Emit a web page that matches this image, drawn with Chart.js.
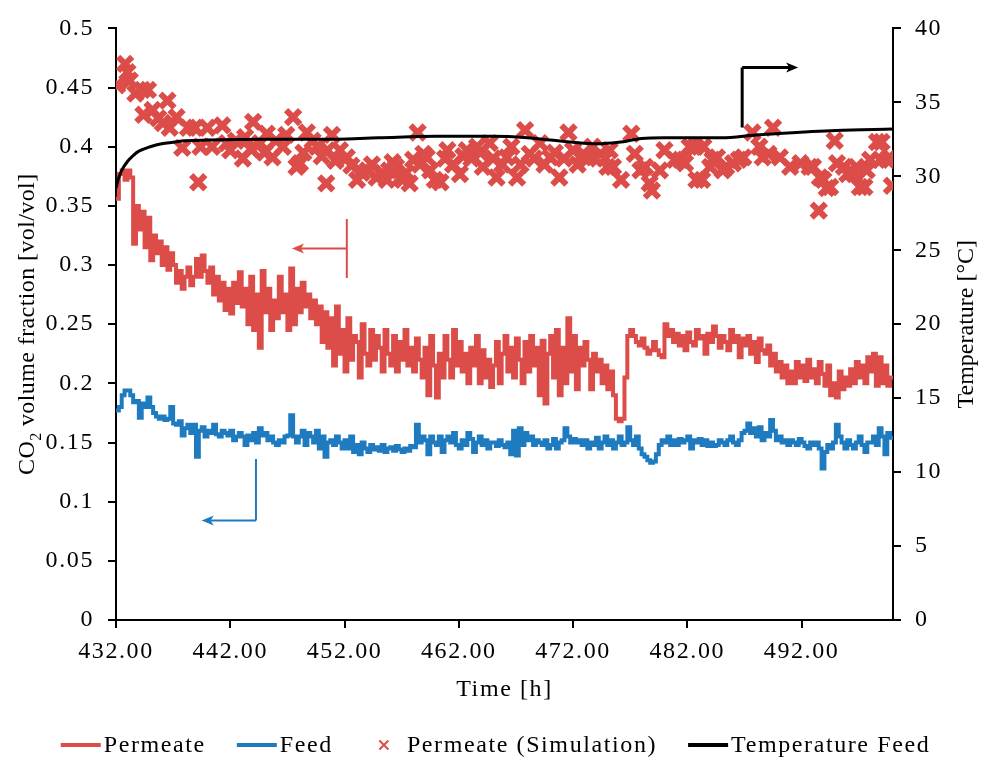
<!DOCTYPE html>
<html>
<head>
<meta charset="utf-8">
<title>CO2 permeate and feed fractions</title>
<script src="https://cdn.jsdelivr.net/npm/chart.js@4.4.1/dist/chart.umd.min.js"></script>
<style>
  html, body { margin: 0; padding: 0; background: #ffffff; }
  #wrap { width: 981px; height: 760px; }
</style>
</head>
<body>
<div id="wrap"><canvas id="chart" width="981" height="760"></canvas></div>
<script>
// ---- measured data -------------------------------------------------------
// Online analyser readings, one sample every quarter hour from 432 h.
const sampleStart = 432;
const sampleStep = 0.25;

const permeateFraction = [
  0.356, 0.377, 0.380, 0.372,  0.380, 0.374, 0.318, 0.350,  0.330, 0.345, 0.315, 0.340,
  0.304, 0.325, 0.310, 0.320,  0.300, 0.315, 0.296, 0.310,  0.300, 0.285, 0.295, 0.280,
  0.290, 0.298, 0.283, 0.290,  0.305, 0.290, 0.308, 0.295,  0.285, 0.298, 0.275, 0.290,
  0.270, 0.285, 0.262, 0.280,  0.259, 0.285, 0.268, 0.294,  0.265, 0.280, 0.250, 0.290,
  0.245, 0.275, 0.230, 0.295,  0.260, 0.280, 0.245, 0.270,  0.255, 0.290, 0.260, 0.275,
  0.245, 0.297, 0.250, 0.280,  0.260, 0.285, 0.265, 0.275,  0.255, 0.270, 0.250, 0.265,
  0.235, 0.260, 0.230, 0.255,  0.215, 0.265, 0.225, 0.245,  0.210, 0.255, 0.220, 0.240,
  0.235, 0.205, 0.250, 0.225,  0.215, 0.245, 0.220, 0.240,  0.230, 0.210, 0.245, 0.225,
  0.215, 0.240, 0.210, 0.235,  0.220, 0.245, 0.215, 0.230,  0.210, 0.238, 0.220, 0.205,
  0.230, 0.190, 0.240, 0.215,  0.188, 0.225, 0.205, 0.240,  0.220, 0.205, 0.245, 0.215,
  0.235, 0.210, 0.225, 0.200,  0.230, 0.215, 0.240, 0.200,  0.228, 0.205, 0.220, 0.197,
  0.215, 0.235, 0.200, 0.225,  0.240, 0.210, 0.230, 0.205,  0.238, 0.220, 0.200, 0.235,
  0.210, 0.240, 0.215, 0.230,  0.190, 0.236, 0.183, 0.225,  0.240, 0.205, 0.245, 0.190,
  0.230, 0.200, 0.255, 0.210,  0.240, 0.195, 0.230, 0.215,  0.235, 0.220, 0.195, 0.225,
  0.210, 0.220, 0.200, 0.215,  0.195, 0.210, 0.190, 0.170,  0.168, 0.170, 0.205, 0.240,
  0.245, 0.240, 0.235, 0.232,  0.238, 0.230, 0.225, 0.228,  0.235, 0.228, 0.224, 0.222,
  0.250, 0.240, 0.245, 0.235,  0.242, 0.232, 0.240, 0.228,  0.243, 0.235, 0.232, 0.245,
  0.238, 0.240, 0.225, 0.242,  0.235, 0.248, 0.240, 0.230,  0.240, 0.235, 0.228, 0.245,
  0.235, 0.240, 0.222, 0.238,  0.232, 0.240, 0.225, 0.235,  0.218, 0.238, 0.228, 0.225,
  0.232, 0.215, 0.225, 0.210,  0.218, 0.205, 0.215, 0.200,  0.210, 0.200, 0.218, 0.205,
  0.215, 0.202, 0.220, 0.205,  0.212, 0.200, 0.218, 0.208,  0.198, 0.215, 0.190, 0.200,
  0.188, 0.210, 0.195, 0.205,  0.198, 0.212, 0.200, 0.218,  0.205, 0.215, 0.200, 0.222,
  0.210, 0.225, 0.198, 0.222,  0.200, 0.215, 0.198, 0.205,  0.205
];

const feedFraction = [
  0.177, 0.180, 0.190, 0.194,  0.194, 0.190, 0.184, 0.185,  0.171, 0.183, 0.180, 0.188,
  0.180, 0.175, 0.172, 0.170,  0.172, 0.169, 0.170, 0.180,  0.166, 0.165, 0.168, 0.156,
  0.162, 0.165, 0.158, 0.165,  0.138, 0.160, 0.163, 0.155,  0.160, 0.158, 0.165, 0.157,
  0.155, 0.160, 0.158, 0.156,  0.160, 0.152, 0.155, 0.158,  0.155, 0.148, 0.156, 0.152,
  0.158, 0.150, 0.162, 0.156,  0.158, 0.152, 0.155, 0.150,  0.148, 0.152, 0.150, 0.155,
  0.156, 0.173, 0.155, 0.150,  0.155, 0.160, 0.148, 0.158,  0.155, 0.150, 0.160, 0.145,
  0.155, 0.138, 0.150, 0.152,  0.148, 0.155, 0.150, 0.145,  0.152, 0.145, 0.155, 0.142,
  0.148, 0.140, 0.150, 0.145,  0.142, 0.148, 0.144, 0.146,  0.143, 0.148, 0.142, 0.145,
  0.146, 0.143, 0.147, 0.144,  0.142, 0.145, 0.143, 0.147,  0.146, 0.165, 0.150, 0.155,
  0.152, 0.140, 0.155, 0.150,  0.148, 0.155, 0.142, 0.152,  0.155, 0.150, 0.158, 0.148,
  0.145, 0.152, 0.148, 0.158,  0.153, 0.142, 0.150, 0.155,  0.148, 0.152, 0.145, 0.150,
  0.150, 0.147, 0.152, 0.148,  0.146, 0.150, 0.140, 0.160,  0.139, 0.162, 0.148, 0.158,
  0.152, 0.155, 0.148, 0.152,  0.150, 0.148, 0.152, 0.145,  0.148, 0.153, 0.145, 0.150,
  0.152, 0.162, 0.155, 0.150,  0.153, 0.150, 0.152, 0.148,  0.152, 0.145, 0.150, 0.148,
  0.154, 0.145, 0.150, 0.155,  0.148, 0.152, 0.145, 0.150,  0.155, 0.148, 0.150, 0.163,
  0.152, 0.148, 0.155, 0.145,  0.140, 0.138, 0.135, 0.133,  0.134, 0.140, 0.148, 0.152,
  0.150, 0.155, 0.148, 0.152,  0.148, 0.153, 0.150, 0.152,  0.155, 0.145, 0.152, 0.150,
  0.153, 0.148, 0.152, 0.147,  0.150, 0.147, 0.148, 0.152,  0.150, 0.148, 0.152, 0.155,
  0.150, 0.148, 0.152, 0.158,  0.160, 0.166, 0.158, 0.162,  0.155, 0.163, 0.152, 0.158,
  0.155, 0.169, 0.160, 0.152,  0.155, 0.150, 0.152, 0.148,  0.152, 0.150, 0.148, 0.153,
  0.150, 0.147, 0.145, 0.150,  0.148, 0.150, 0.145, 0.128,  0.142, 0.148, 0.145, 0.150,
  0.165, 0.155, 0.150, 0.145,  0.152, 0.148, 0.145, 0.150,  0.155, 0.148, 0.142, 0.150,
  0.150, 0.155, 0.148, 0.162,  0.155, 0.140, 0.158, 0.154,  0.154
];

// Model predictions for the permeate (time in h, CO2 fraction)
const simHours = [
  432.1, 432.8, 433.0, 433.2, 433.7, 434.3, 434.4, 434.8, 435.2, 435.7, 436.1, 436.5,
  436.7, 437.3, 437.8, 438.3, 438.9, 439.2, 439.4, 440.0, 440.4, 441.3, 441.7, 442.0,
  442.5, 443.1, 443.3, 443.8, 444.0, 444.6, 445.0, 445.2, 445.7, 446.0, 446.6, 446.9,
  447.5, 447.8, 448.1, 448.4, 448.7, 449.2, 449.6, 450.0, 450.4, 450.5, 450.9, 451.2,
  451.6, 452.2, 452.6, 453.1, 453.5, 454.0, 454.4, 454.8, 455.3, 455.7, 455.9, 456.2,
  456.5, 456.9, 457.1, 457.4, 457.7, 458.0, 458.4, 458.6, 458.9, 459.2, 459.5, 459.9,
  460.4, 460.8, 461.0, 461.5, 462.1, 462.4, 462.7, 463.1, 463.6, 463.9, 464.1, 464.7,
  465.0, 465.3, 465.8, 466.2, 466.6, 467.1, 467.4, 467.8, 468.2, 468.6, 469.1, 469.5,
  470.0, 470.4, 470.8, 471.2, 471.6, 472.0, 472.4, 472.9, 473.3, 473.7, 473.8, 474.4,
  474.8, 475.0, 475.2, 475.5, 476.2, 477.1, 477.4, 477.9, 478.3, 478.7, 478.9, 479.6,
  480.0, 480.9, 481.4, 481.8, 482.2, 482.7, 482.8, 483.3, 483.4, 484.0, 484.2, 484.6,
  485.1, 485.4, 486.0, 486.5, 486.9, 487.7, 488.3, 488.6, 489.1, 489.5, 490.1, 491.0,
  491.9, 492.7, 493.0, 493.5, 493.6, 493.9, 494.2, 494.5, 494.9, 495.1, 495.7, 496.0,
  496.6, 496.8, 497.1, 497.5, 497.7, 498.0, 498.6, 498.9, 499.0, 499.5, 499.7, 499.9
];
const simFraction = [
  0.452, 0.470, 0.463, 0.456, 0.445, 0.448, 0.427, 0.448, 0.431, 0.424, 0.420, 0.439,
  0.416, 0.425, 0.399, 0.416, 0.416, 0.370, 0.400, 0.416, 0.400, 0.418, 0.403, 0.397,
  0.405, 0.390, 0.408, 0.398, 0.421, 0.403, 0.395, 0.411, 0.391, 0.405, 0.400, 0.410,
  0.425, 0.383, 0.386, 0.395, 0.412, 0.405, 0.400, 0.392, 0.369, 0.397, 0.410, 0.388,
  0.397, 0.391, 0.384, 0.372, 0.378, 0.380, 0.385, 0.374, 0.378, 0.372, 0.380, 0.387,
  0.383, 0.374, 0.372, 0.378, 0.369, 0.389, 0.412, 0.385, 0.394, 0.391, 0.380, 0.372,
  0.370, 0.390, 0.397, 0.385, 0.377, 0.392, 0.397, 0.390, 0.400, 0.395, 0.383, 0.403,
  0.390, 0.374, 0.385, 0.391, 0.400, 0.374, 0.385, 0.414, 0.394, 0.390, 0.403, 0.385,
  0.391, 0.395, 0.374, 0.390, 0.412, 0.397, 0.385, 0.394, 0.390, 0.400, 0.391, 0.394,
  0.390, 0.383, 0.397, 0.383, 0.372, 0.411, 0.394, 0.380, 0.383, 0.369, 0.363, 0.380,
  0.397, 0.389, 0.389, 0.386, 0.400, 0.400, 0.372, 0.372, 0.400, 0.383, 0.389, 0.391,
  0.380, 0.383, 0.386, 0.389, 0.391, 0.412, 0.400, 0.391, 0.394, 0.416, 0.391, 0.383,
  0.386, 0.383, 0.383, 0.346, 0.374, 0.372, 0.365, 0.366, 0.405, 0.386, 0.383, 0.377,
  0.377, 0.383, 0.366, 0.366, 0.380, 0.389, 0.404, 0.389, 0.404, 0.389, 0.391, 0.367
];

// Feed gas temperature (h, °C)
const tempHours = [
  432.0, 432.2, 432.5, 433.0, 433.5, 434.0, 435.0, 436.0, 437.0, 438.0, 440.0, 445.0,
  450.0, 455.0, 460.0, 465.0, 468.0, 470.0, 472.0, 474.0, 476.0, 478.0, 480.0, 485.0,
  488.0, 490.0, 495.0, 500.0
];
const tempFeed = [
  29.2, 29.8, 30.4, 31.0, 31.4, 31.7, 32.0, 32.2, 32.3, 32.4, 32.45, 32.5,
  32.5, 32.6, 32.7, 32.7, 32.6, 32.45, 32.3, 32.2, 32.3, 32.55, 32.6, 32.6,
  32.8, 32.9, 33.1, 33.2
];

// Axis ticks
const timeTicks = [432, 442, 452, 462, 472, 482, 492];
const fractionTicksStep = 0.05;
const temperatureTicksStep = 5;

// ---- styling -------------------------------------------------------------
const RED = '#DC4C49';
const BLUE = '#1F7BC0';
const BLACK = '#000000';
const FONT_FAMILY = "'Liberation Serif', 'Times New Roman', serif";
const FONT_SIZE = 24;
const TEXT_TRACKING = '1.6px';   // wide-set lettering for horizontal text
const font = { family: FONT_FAMILY, size: FONT_SIZE };

const toPoints = (xs, ys) => ys.map((y, i) => ({ x: xs[i], y }));
const sampleHours = permeateFraction.map((_, i) => sampleStart + i * sampleStep);

// Direction markers telling which axis each curve belongs to (data units)
const axisPointers = [
  { color: RED,   width: 2, yAxis: 'y',  stem: [452.2, 0.339, 452.2, 0.289], shaft: [452.2, 0.314, 447.4, 0.314] },
  { color: BLUE,  width: 2, yAxis: 'y',  stem: [444.25, 0.136, 444.25, 0.084], shaft: [444.25, 0.084, 439.5, 0.084] },
  { color: BLACK, width: 3, yAxis: 'y1', stem: [486.8, 33.3, 486.8, 37.35], shaft: [486.8, 37.35, 491.7, 37.35] }
];

const trackingPlugin = {
  id: 'tracking',
  beforeDraw(chart) {
    if ('letterSpacing' in chart.ctx) chart.ctx.letterSpacing = TEXT_TRACKING;
  }
};

const pointerPlugin = {
  id: 'pointers',
  afterDatasetsDraw(chart) {
    const ctx = chart.ctx;
    const xs = chart.scales.x;
    axisPointers.forEach(p => {
      const ys = chart.scales[p.yAxis];
      const px = v => xs.getPixelForValue(v);
      const py = v => ys.getPixelForValue(v);
      ctx.save();
      ctx.strokeStyle = p.color;
      ctx.fillStyle = p.color;
      ctx.lineWidth = p.width;
      ctx.beginPath();
      ctx.moveTo(px(p.stem[0]), py(p.stem[1]));
      ctx.lineTo(px(p.stem[2]), py(p.stem[3]));
      const x0 = px(p.shaft[0]), y0 = py(p.shaft[1]);
      const x1 = px(p.shaft[2]), y1 = py(p.shaft[3]);
      const dir = Math.sign(x1 - x0);
      const head = 12;
      ctx.moveTo(x0, y0);
      ctx.lineTo(x1 - dir * head * 0.6, y1);
      ctx.stroke();
      ctx.beginPath();
      ctx.moveTo(x1, y1);
      ctx.lineTo(x1 - dir * head, y1 - 5);
      ctx.lineTo(x1 - dir * head * 0.75, y1);
      ctx.lineTo(x1 - dir * head, y1 + 5);
      ctx.closePath();
      ctx.fill();
      ctx.restore();
    });
  }
};

// Axis titles drawn by hand (the CO2 title needs a subscript)
const axisTitlePlugin = {
  id: 'axisTitles',
  afterDraw(chart) {
    const ctx = chart.ctx;
    const area = chart.chartArea;
    const cy = (area.top + area.bottom) / 2;
    const big = `${FONT_SIZE}px ${FONT_FAMILY}`;
    const small = `${Math.round(FONT_SIZE * 0.68)}px ${FONT_FAMILY}`;

    // left title, reading upwards
    const parts = [
      { t: 'CO', f: big, dy: 0 },
      { t: '2', f: small, dy: FONT_SIZE * 0.3 },
      { t: ' volume fraction [vol/vol]', f: big, dy: 0 }
    ];
    ctx.save();
    if ('letterSpacing' in ctx) ctx.letterSpacing = '0.4px';
    ctx.fillStyle = BLACK;
    ctx.textBaseline = 'alphabetic';
    let total = 0;
    parts.forEach(p => { ctx.font = p.f; p.w = ctx.measureText(p.t).width; total += p.w; });
    ctx.translate(26, cy);
    ctx.rotate(-Math.PI / 2);
    let x = -total / 2;
    parts.forEach(p => {
      ctx.font = p.f;
      ctx.fillText(p.t, x, FONT_SIZE * 0.33 + p.dy);
      x += p.w;
    });
    ctx.restore();

    // right title, reading upwards
    ctx.save();
    if ('letterSpacing' in ctx) ctx.letterSpacing = '0px';
    ctx.fillStyle = BLACK;
    ctx.font = big;
    ctx.textAlign = 'center';
    ctx.textBaseline = 'middle';
    ctx.translate(967, cy);
    ctx.rotate(-Math.PI / 2);
    ctx.fillText('Temperature [°C]', 0, 0);
    ctx.restore();
  }
};

// One-row legend under the time axis
const legendRowPlugin = {
  id: 'legendRow',
  afterDraw(chart) {
    const ctx = chart.ctx;
    const boxW = 40, gapText = 3, gapItem = 31, rowY = 745;
    ctx.save();
    if ('letterSpacing' in ctx) ctx.letterSpacing = TEXT_TRACKING;
    ctx.font = `${FONT_SIZE}px ${FONT_FAMILY}`;
    ctx.textBaseline = 'middle';
    ctx.fillStyle = BLACK;
    const items = chart.data.datasets.map(ds => ({
      label: ds.label,
      color: ds.borderColor,
      cross: ds.type === 'scatter',
      w: ctx.measureText(ds.label).width
    }));
    const total = items.reduce((s, it) => s + boxW + gapText + it.w, 0) + gapItem * (items.length - 1);
    let x = chart.width / 2 - total / 2 + 5;
    items.forEach(it => {
      ctx.strokeStyle = it.color;
      if (it.cross) {
        const cx = x + boxW / 2, r = 4.5;
        ctx.lineWidth = 2;
        ctx.beginPath();
        ctx.moveTo(cx - r, rowY - r); ctx.lineTo(cx + r, rowY + r);
        ctx.moveTo(cx + r, rowY - r); ctx.lineTo(cx - r, rowY + r);
        ctx.stroke();
      } else {
        ctx.lineWidth = 4;
        ctx.beginPath();
        ctx.moveTo(x, rowY); ctx.lineTo(x + boxW, rowY);
        ctx.stroke();
      }
      ctx.fillText(it.label, x + boxW + gapText, rowY + 1);
      x += boxW + gapText + it.w + gapItem;
    });
    ctx.restore();
  }
};

const axisLine = { color: BLACK, width: 2 };
const tickGrid = { drawOnChartArea: false, drawTicks: true, tickLength: 8, color: BLACK, lineWidth: 2 };

new Chart(document.getElementById('chart'), {
  type: 'line',
  data: {
    datasets: [
      {
        label: 'Permeate',
        data: toPoints(sampleHours, permeateFraction),
        borderColor: RED, backgroundColor: RED,
        borderWidth: 4, pointRadius: 0, stepped: true,
        yAxisID: 'y', order: 2
      },
      {
        label: 'Feed',
        data: toPoints(sampleHours, feedFraction),
        borderColor: BLUE, backgroundColor: BLUE,
        borderWidth: 4, pointRadius: 0, stepped: true,
        yAxisID: 'y', order: 3
      },
      {
        type: 'scatter',
        label: 'Permeate (Simulation)',
        data: toPoints(simHours, simFraction),
        borderColor: RED, backgroundColor: RED,
        pointStyle: 'crossRot', radius: 10, pointRadius: 10,
        borderWidth: 6, pointBorderWidth: 6,
        showLine: false, yAxisID: 'y', order: 1
      },
      {
        label: 'Temperature Feed',
        data: toPoints(tempHours, tempFeed),
        borderColor: BLACK, backgroundColor: BLACK,
        borderWidth: 3, pointRadius: 0, cubicInterpolationMode: 'monotone',
        yAxisID: 'y1', order: 0
      }
    ]
  },
  options: {
    responsive: false,
    animation: false,
    devicePixelRatio: 1,
    layout: { padding: { top: 25, bottom: 52, left: 0, right: 0 } },
    plugins: { legend: { display: false }, tooltip: { enabled: false } },
    scales: {
      x: {
        type: 'linear', position: 'bottom', min: 432, max: 500,
        afterBuildTicks: axis => { axis.ticks = timeTicks.map(v => ({ value: v })); },
        afterFit: scale => { scale.height = 88; },
        ticks: { font, color: BLACK, padding: 9, maxRotation: 0, autoSkip: false,
                 callback: v => Number(v).toFixed(2) },
        grid: tickGrid, border: axisLine,
        title: { display: true, text: 'Time [h]', font, color: BLACK, padding: { top: 4, bottom: 4 } }
      },
      y: {
        position: 'left', min: 0, max: 0.5,
        afterFit: scale => { scale.width = 116; },
        ticks: { stepSize: fractionTicksStep, font, color: BLACK, padding: 14,
                 callback: v => String(Number(Number(v).toFixed(2))) },
        grid: tickGrid, border: axisLine
      },
      y1: {
        position: 'right', min: 0, max: 40,
        afterFit: scale => { scale.width = 88; },
        ticks: { stepSize: temperatureTicksStep, font, color: BLACK, padding: 14 },
        grid: tickGrid, border: axisLine
      }
    }
  },
  plugins: [trackingPlugin, pointerPlugin, axisTitlePlugin, legendRowPlugin]
});
</script>
</body>
</html>
